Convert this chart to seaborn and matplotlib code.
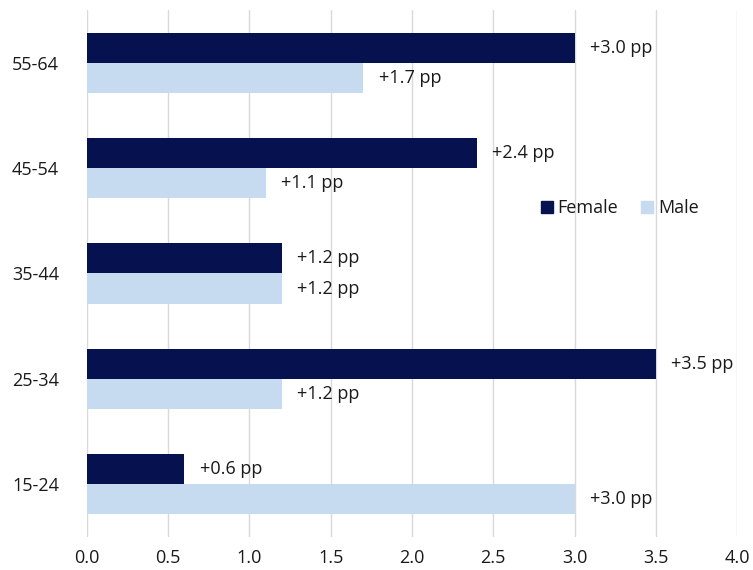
import matplotlib
matplotlib.use("Agg")
import matplotlib.pyplot as plt
from matplotlib.lines import Line2D
import seaborn as sns
import pandas as pd

# Change in rate by age group (percentage points)
age_groups = ["55-64", "45-54", "35-44", "25-34", "15-24"]
female = [3.0, 2.4, 1.2, 3.5, 0.6]
male = [1.7, 1.1, 1.2, 1.2, 3.0]
series = ["Female", "Male"]
x_ticks = [0.0, 0.5, 1.0, 1.5, 2.0, 2.5, 3.0, 3.5, 4.0]

colors = {"Female": "#06114f", "Male": "#c6dbef"}

df = pd.DataFrame({
    "age": age_groups * 2,
    "value": female + male,
    "sex": ["Female"] * len(age_groups) + ["Male"] * len(age_groups),
})

sns.set_theme(style="white")
plt.rcParams["font.family"] = ["Open Sans", "DejaVu Sans"]

fig = plt.figure(figsize=(7.53, 5.70), dpi=100)
ax = fig.add_axes([0.1155, 0.0579, 0.8633, 0.9246])

sns.barplot(data=df, y="age", x="value", hue="sex", order=age_groups,
            hue_order=series, palette=colors, orient="h", width=0.57,
            saturation=1, errorbar=None, legend=False, linewidth=0, ax=ax)

ax.set_xlim(0, 4.0)
ax.set_ylim(4.5, -0.5)
ax.set_xticks(x_ticks)
ax.set_xticklabels([f"{t:.1f}" for t in x_ticks])
ax.set_xlabel("")
ax.set_ylabel("")
ax.grid(axis="x", color="#d9d9d9", linewidth=1)
ax.set_axisbelow(True)
for s in ax.spines.values():
    s.set_visible(False)
ax.tick_params(axis="both", length=0, labelsize=13, colors="#1a1a1a")
ax.tick_params(axis="x", pad=9)
ax.tick_params(axis="y", pad=20)

# Value labels at the end of each bar
for container, vals in zip(ax.containers, [female, male]):
    labels = [f"+{v:.1f} pp" for v in vals]
    ax.bar_label(container, labels=labels, padding=11, fontsize=13,
                 color="#1a1a1a")

handles = [Line2D([], [], marker="s", linestyle="none", markersize=8,
                  color=colors[s]) for s in series]
ax.legend(handles, series, ncol=2, frameon=False, fontsize=13,
          loc="center", bbox_to_anchor=(0.82, 0.624),
          handlelength=0.6, handletextpad=0.3, columnspacing=1.3,
          labelcolor="#1a1a1a")

fig.savefig("out.png", dpi=100, facecolor="white")
